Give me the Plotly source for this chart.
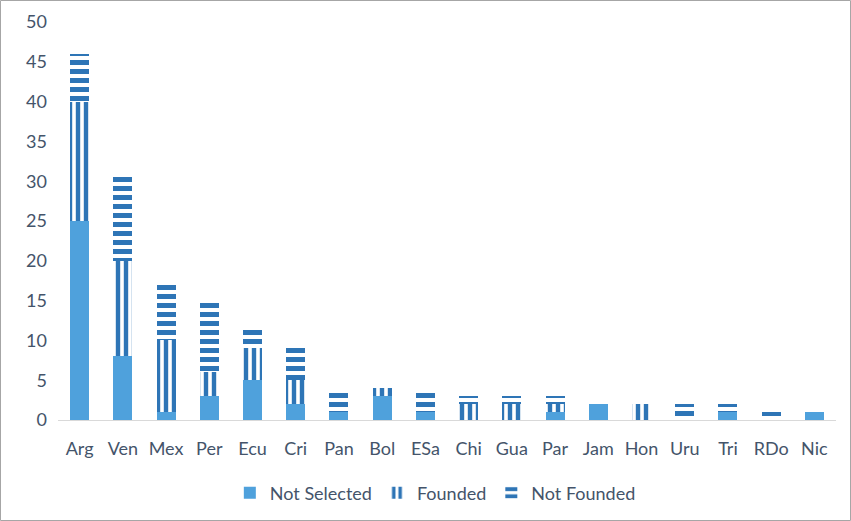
import plotly.graph_objects as go

countries = ["Arg", "Ven", "Mex", "Per", "Ecu", "Cri", "Pan", "Bol", "ESa", "Chi",
             "Gua", "Par", "Jam", "Hon", "Uru", "Tri", "RDo", "Nic"]
not_selected = [25, 8, 1, 3, 5, 2, 1, 3, 1, 0, 0, 1, 2, 0, 0, 1, 0, 1]
founded = [15, 12, 9, 3, 4, 3, 0, 1, 0, 2, 2, 1, 0, 2, 0, 0, 0, 0]
not_founded = [6, 11, 7, 9, 2.6, 4, 2.5, 0, 2.5, 1, 1, 1, 0, 0, 2, 1, 1, 0]

DARK = "#2E75B6"
LIGHT = "#4FA1DC"
TXT = "#44546A"
FONT = "Lato"

fig = go.Figure()
fig.add_bar(x=countries, y=not_selected, name="Not Selected",
            marker=dict(color=LIGHT, line=dict(width=0)))
fig.add_bar(x=countries, y=founded, name="Founded",
            marker=dict(color="white", line=dict(width=0),
                        pattern=dict(shape="|", fgcolor=DARK, bgcolor="white",
                                     fgopacity=1, fillmode="replace",
                                     size=8, solidity=0.55)))
fig.add_bar(x=countries, y=not_founded, name="Not Founded",
            marker=dict(color="white", line=dict(width=0),
                        pattern=dict(shape="-", fgcolor=DARK, bgcolor="white",
                                     fgopacity=1, fillmode="replace",
                                     size=9, solidity=0.55)))

L, R, T, B = 58, 836, 22, 420
W, H = R - L, B - T
fig.add_shape(type="rect", xref="paper", yref="paper",
              x0=(0.5 - L) / W, x1=(850.5 - L) / W,
              y0=(B - 520.5) / H, y1=(B - 0.5) / H,
              line=dict(color="#A6A6A6", width=1), fillcolor="rgba(0,0,0,0)")

fig.update_layout(
    width=851, height=521,
    barmode="stack", bargap=0.56,
    paper_bgcolor="white", plot_bgcolor="white",
    margin=dict(l=L, r=851 - R, t=T, b=521 - B, autoexpand=False),
    font=dict(family=FONT, size=18, color=TXT),
    showlegend=True,
    legend=dict(orientation="h", x=0.485, xanchor="center",
                y=(B - 493) / H, yanchor="middle",
                font=dict(size=18, color=TXT), traceorder="normal",
                itemwidth=30),
    xaxis=dict(showgrid=False, showline=True, linecolor="#D9D9D9", linewidth=1,
               ticks="", ticklabelstandoff=12, tickfont=dict(size=18, color=TXT)),
    yaxis=dict(range=[0, 50], dtick=5, showgrid=False, zeroline=False,
               showline=False, ticks="", ticklabelstandoff=10,
               tickfont=dict(size=18, color=TXT)),
)

fig.write_html("out.html")
